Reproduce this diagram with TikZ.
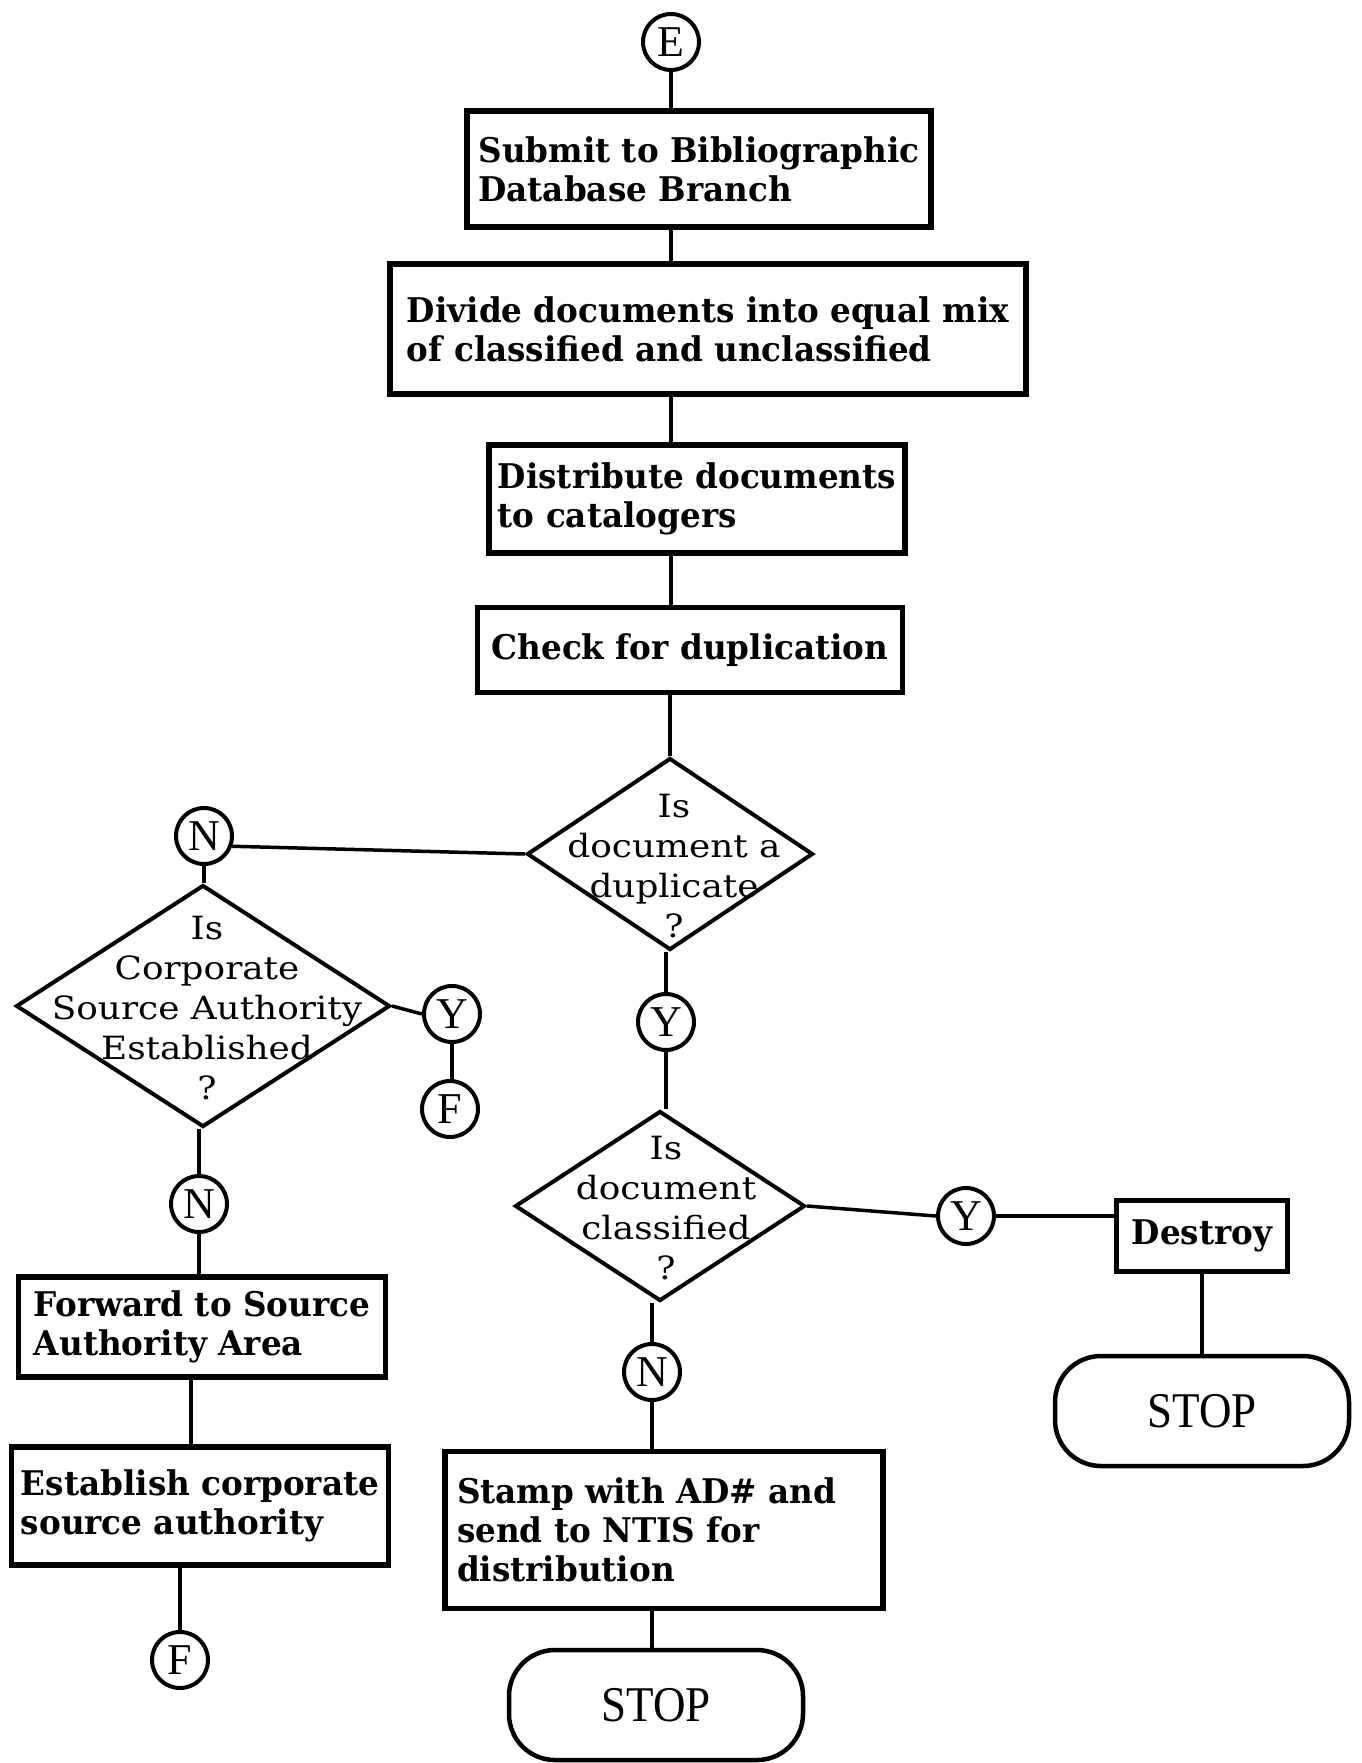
\documentclass[tikz,border=0pt]{standalone}
\usepackage{fontspec}
\newfontfamily\slabfont[FakeStretch=0.96]{DejaVu Serif}
\newfontfamily\askfont[FakeStretch=1.12]{DejaVu Serif}
\newfontfamily\markfont{Liberation Serif}
\usetikzlibrary{shapes.geometric}

\tikzset{
  stepbox/.style={draw, rectangle, line width=5.5pt, inner sep=0pt, align=left,
    font={\slabfont\bfseries\fontsize{34}{39}\selectfont}},
  decision/.style={draw, diamond, line width=4pt, inner sep=0pt},
  qtext/.style={align=center, inner sep=0pt,
    font={\askfont\fontsize{32}{40}\selectfont}},
  conn/.style={draw, circle, line width=4pt, minimum size=56pt, inner sep=0pt,
    fill=white, font={\markfont\fontsize{44}{44}\selectfont}},
  term/.style={draw, rectangle, rounded corners=46pt, line width=4.5pt,
    minimum width=294pt, minimum height=110pt, inner sep=0pt,
    font={\markfont\fontsize{50}{50}\selectfont}},
  wire/.style={line width=3.5pt}
}

\begin{document}
\begin{tikzpicture}[x=1pt, y=-1pt]
  % page
  \fill[white] (0,0) rectangle (1361,1763);
  \useasboundingbox (0,0) rectangle (1361,1763);
  \coordinate (spine) at (671,0);

  % main column
  \node[conn] (E) at (671,42) {E};
  \node[stepbox, minimum width=464pt, minimum height=116pt] (submit) at (699,169)
    {Submit to Bibliographic\\Database Branch};
  \node[stepbox, minimum width=636pt, minimum height=130pt] (divide) at (708,329)
    {Divide documents into equal mix\\of classified and unclassified};
  \node[stepbox, minimum width=416pt, minimum height=108pt] (distrib) at (697,499)
    {Distribute documents\\to catalogers};
  \node[stepbox, minimum width=425pt, minimum height=85pt] (check) at (690,650)
    {Check for duplication};

  % duplicate test
  \node[decision, minimum width=286pt, minimum height=192pt] (dup) at (670,854) {};
  \node[qtext] (duptext) at (674,866) {Is\\document a\\duplicate\\?};

  % left branch: not a duplicate
  \node[conn] (nleft) at (204,836) {N};
  \node[decision, minimum width=374pt, minimum height=242pt] (corp) at (203,1006) {};
  \node[qtext] (corptext) at (207,1008)
    {Is\\Corporate\\Source Authority\\Established\\?};
  \node[conn] (ycorp) at (452,1014) {Y};
  \node[conn] (fcorp) at (450,1109) {F};
  \node[conn] (ncorp) at (199,1204) {N};
  \node[stepbox, minimum width=367pt, minimum height=100pt] (forward) at (202,1327)
    {Forward to Source\\Authority Area};
  \node[stepbox, minimum width=377pt, minimum height=118pt] (establish) at (200,1506)
    {Establish corporate\\source authority};
  \node[conn] (fend) at (180,1660) {F};

  % right branch: duplicate
  \node[conn] (ydup) at (666,1022) {Y};
  \node[decision, minimum width=290pt, minimum height=190pt] (class) at (660,1206) {};
  \node[qtext] (classtext) at (666,1208) {Is\\document\\classified\\?};
  \node[conn] (yclass) at (966,1216) {Y};
  \node[stepbox, minimum width=171pt, minimum height=71pt] (destroy) at (1202,1236)
    {Destroy};
  \node[term] (stopright) at (1202,1411) {\scalebox{0.9}[1]{STOP}};
  \node[conn] (nclass) at (652,1372) {N};
  \node[stepbox, minimum width=438pt, minimum height=157pt, text width=414pt]
    (stamp) at (664,1530)
    {Stamp with AD\# and\\send to NTIS for\\distribution};
  \node[term] (stopbottom) at (656,1705) {\scalebox{0.9}[1]{STOP}};

  % connectors
  \draw[wire] (E.south) -- (E.south |- submit.north);
  \draw[wire] (submit.south -| spine) -- (divide.north -| spine);
  \draw[wire] (divide.south -| spine) -- (distrib.north -| spine);
  \draw[wire] (distrib.south -| spine) -- (check.north -| spine);
  \draw[wire] (check.south -| dup.north) -- (dup.north);

  \draw[wire] (nleft.-20) -- (dup.west);
  \draw[wire] (nleft.south) -- (nleft.south |- corp.north);
  \draw[wire] (corp.east) -- (ycorp.west);
  \draw[wire] (ycorp.south) -- (ycorp.south |- fcorp.north);
  \draw[wire] (ncorp.north) -- (ncorp.north |- corp.south);
  \draw[wire] (ncorp.south) -- (ncorp.south |- forward.north);
  \draw[wire] ([xshift=-11pt]forward.south) -- ([xshift=-11pt]forward.south |- establish.north);
  \draw[wire] (fend.north) -- (fend.north |- establish.south);

  \draw[wire] (ydup.north) -- (ydup.north |- dup.south);
  \draw[wire] (ydup.south) -- (ydup.south |- class.north);
  \draw[wire] (class.east) -- (yclass.west);
  \draw[wire] (yclass.east) -- (yclass.east -| destroy.west);
  \draw[wire] (destroy.south) -- (destroy.south |- stopright.north);
  \draw[wire] (nclass.north) -- (nclass.north |- class.south);
  \draw[wire] (nclass.south) -- (nclass.south |- stamp.north);
  \draw[wire] (stamp.south -| nclass) -- (stopbottom.north -| nclass);
\end{tikzpicture}
\end{document}
